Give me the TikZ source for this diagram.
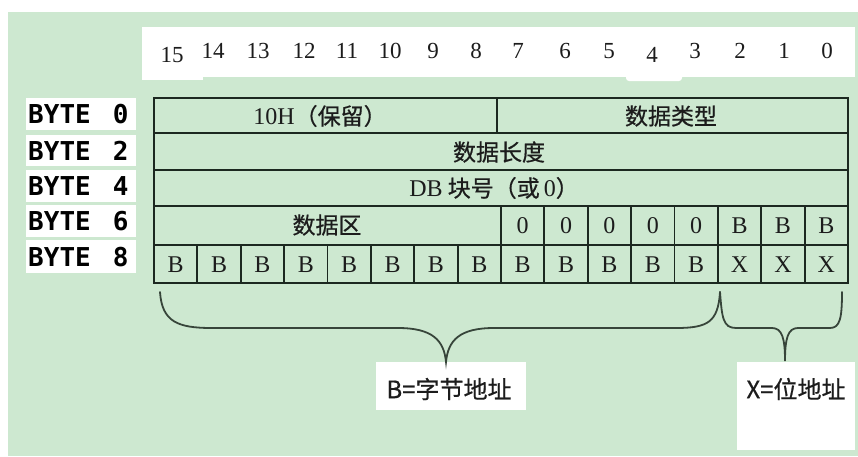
\documentclass[tikz,border=0pt]{standalone}
\usepackage{fontspec}
\newfontfamily\cjk{Noto Sans CJK SC}[FakeBold=0.6]
\newfontfamily\lat{Liberation Serif}
\newfontfamily\bytefont{DejaVu Sans Mono}
\definecolor{bggreen}{RGB}{205,232,208}
\definecolor{linec}{RGB}{28,40,32}
\definecolor{textc}{RGB}{28,28,28}
\tikzset{
  grid/.style={draw=linec, line width=1.8pt},
  bracel/.style={draw=linec!85!bggreen, line width=1.8pt, line cap=round},
  bitnum/.style={font=\lat\fontsize{23}{25}\selectfont, text=textc, inner sep=0pt},
  cellt/.style={font=\lat\fontsize{24}{26}\selectfont, text=textc, inner sep=0pt},
  cjkt/.style={font=\cjk\fontsize{23}{25}\selectfont, text=textc, inner sep=0pt},
  bytebox/.style={fill=white, text width=106pt, inner xsep=2pt, inner ysep=0pt,
    minimum height=#1, align=left, text=black,
    font=\bytefont\bfseries\fontsize{26}{28}\selectfont},
  whitebox/.style={fill=white, inner sep=0pt, minimum width=#1},
}
\begin{document}
\begin{tikzpicture}[x=1pt,y=-1pt]
\useasboundingbox (0,0) rectangle (858,456);
\fill[white] (0,0) rectangle (858,456);
\fill[bggreen] (8,12) rectangle (858,456);
% top white strip with bit numbers
\fill[white] (142,27) rectangle (855,77);
\fill[white] (142,76) rectangle (203,80);
\fill[white, rounded corners=3pt] (626,70) rectangle (682,81);
\foreach \n/\x/\y in {15/172/55,14/213/51,13/258/51,12/304/51,11/347/51,10/390/51,
  9/433/51,8/476/51,7/518/51,6/565/51,5/609/51,4/652/55,3/695/51,2/740/51,1/784/51,0/827/51}
  \node[bitnum] (bit\n) at (\x,\y) {\n};
% byte labels
\foreach \k/\t/\b in {0/98/130,2/135/166,4/170/202,6/205/237,8/240/273}
  \node[bytebox={(\b-\t)*1pt}, anchor=north west] (byte\k) at (26,\t) {BYTE\hspace{22pt}\k};
% table grid
\draw[grid] (154,98) rectangle (848,283);
\foreach \yy in {133,170,206,245} \draw[grid] (154,\yy) -- (848,\yy);
\draw[grid] (497,98) -- (497,133);
\foreach \i in {8,...,15} \draw[grid] ({154+43.375*\i},206) -- ({154+43.375*\i},245);
\foreach \i in {1,...,15} \draw[grid] ({154+43.375*\i},245) -- ({154+43.375*\i},283);
% row texts
\node[cjkt] (res) at (320,116) {{\lat\fontsize{24}{26}\selectfont 10H}（保留）};
\node[cjkt] (dtype) at (671,116) {数据类型};
\node[cjkt] (dlen) at (499,152) {数据长度};
\node[cjkt] (dbno) at (494,188) {{\lat\fontsize{24}{26}\selectfont DB} 块号（或{\lat\fontsize{24}{26}\selectfont\,0}）};
\node[cjkt] (darea) at (327,225) {数据区};
\foreach \i in {8,...,12} \node[cellt] (z\i) at ({154+43.375*(\i+0.5)},226) {0};
\foreach \i in {13,14,15} \node[cellt] (bb\i) at ({154+43.375*(\i+0.5)},226) {B};
\foreach \i in {0,...,12} \node[cellt] (b\i) at ({154+43.375*(\i+0.5)},265) {B};
\foreach \i in {13,14,15} \node[cellt] (x\i) at ({154+43.375*(\i+0.5)},265) {X};
% label boxes
\node[whitebox=150pt, minimum height=48pt, anchor=north] (bbox) at (451,362) {};
\node[cjkt, font=\cjk\fontsize{24}{26}\selectfont] (blab) at (449,389) {B=字节地址};
\node[whitebox=118pt, minimum height=88pt, anchor=north] (xbox) at (796,362) {};
\node[cjkt, font=\cjk\fontsize{24}{26}\selectfont] (xlab) at (796,389) {X=位地址};
% braces
\coordinate (bL) at (160,292);
\coordinate (bR) at (720,292);
\coordinate (bT) at (446,362);
\coordinate (sR) at (842,292);
\coordinate (sT) at (785,361);
\draw[bracel] (bL) .. controls (162,322) and (178,328) .. (212,328) -- (398,328)
  .. controls (432,328) and (444,340) .. (bT)
  .. controls (448,340) and (460,328) .. (494,328) -- (676,328)
  .. controls (708,328) and (718,322) .. (bR);
\draw[bracel] (bR) .. controls (722,318) and (723,328) .. (736,328) -- (772,328)
  .. controls (782,328) and (785,338) .. (sT)
  .. controls (785,338) and (788,328) .. (798,328) -- (830,328)
  .. controls (840,328) and (842,318) .. (sR);
\end{tikzpicture}
\end{document}
